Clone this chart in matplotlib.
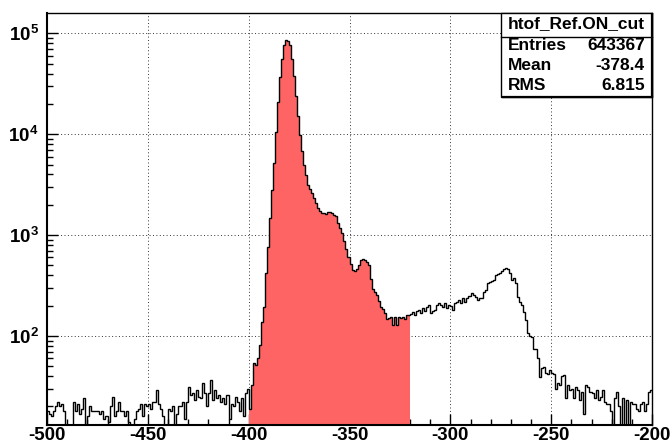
import numpy as np
import matplotlib
matplotlib.use("Agg")
import matplotlib.pyplot as plt
from matplotlib.ticker import MultipleLocator, LogLocator, FuncFormatter, NullFormatter
from matplotlib.patches import Rectangle
from matplotlib.lines import Line2D

plt.rcParams['font.family'] = ['Liberation Sans', 'DejaVu Sans']
plt.rcParams['axes.unicode_minus'] = False
plt.rcParams['mathtext.fontset'] = 'custom'
plt.rcParams['mathtext.rm'] = 'Liberation Sans:bold'
plt.rcParams['mathtext.bf'] = 'Liberation Sans:bold'

# ---- data: histogram htof_Ref.ON_cut, 1-unit bins from -500 to -200 ----
x_min, x_max = -500, -200
cut_lo, cut_hi = -400, -320

counts_500_451 = [18, 17, 16, 18, 20, 22, 20, 21, 18, 0,
                  0, 0, 0, 22, 18, 21, 17, 19, 24, 0,
                  16, 20, 18, 18, 18, 18, 17, 18, 15, 16,
                  14, 20, 25, 16, 18, 22, 18, 18, 16, 18,
                  14, 0, 0, 15, 18, 19, 21, 16, 21, 20]
counts_450_401 = [21, 19, 22, 22, 29, 21, 19, 16, 0, 0,
                  19, 18, 20, 0, 17, 20, 20, 22, 15, 22,
                  31, 26, 27, 23, 29, 25, 24, 34, 27, 20,
                  27, 37, 23, 29, 24, 26, 22, 24, 21, 26,
                  15, 21, 20, 25, 22, 18, 24, 16, 27, 30]
counts_400_351 = [19, 33, 54, 52, 60, 82, 139, 195, 420, 770,
                  1470, 2810, 5170, 10600, 21100, 36800, 55500, 77100, 85500, 84500,
                  77100, 55500, 37400, 24000, 15000, 9900, 6760, 4980, 3960, 3150,
                  2850, 2600, 2320, 2070, 1845, 1750, 1650, 1650, 1620, 1700,
                  1680, 1650, 1600, 1530, 1320, 1180, 1050, 870, 720, 600]
counts_350_301 = [515, 450, 440, 465, 500, 560, 575, 570, 545, 510,
                  365, 290, 275, 257, 222, 192, 185, 170, 148, 150,
                  153, 127, 153, 127, 153, 150, 155, 148, 160, 162,
                  165, 172, 162, 178, 182, 170, 190, 175, 195, 203,
                  170, 178, 182, 205, 210, 203, 195, 212, 190, 203]
counts_300_251 = [200, 181, 211, 219, 228, 214, 237, 219, 237, 250,
                  265, 255, 245, 228, 237, 240, 275, 286, 333, 341,
                  350, 360, 403, 410, 425, 440, 459, 470, 459, 420,
                  360, 374, 333, 245, 219, 203, 174, 144, 106, 100,
                  98, 75, 75, 60, 39, 48, 49, 43, 42, 46]
counts_250_201 = [43, 42, 30, 34, 33, 40, 41, 24, 33, 29,
                  30, 24, 31, 29, 23, 28, 17, 33, 31, 28,
                  27, 24, 29, 23, 25, 29, 22, 21, 21, 18,
                  0, 24, 28, 20, 0, 24, 0, 23, 0, 22,
                  21, 21, 19, 18, 21, 22, 18, 21, 28, 29]

stats_title = "htof_Ref.ON_cut"
stats_rows = [("Entries", "643367"), ("Mean", "-378.4"), ("RMS", "6.815")]

counts = np.array(counts_500_451 + counts_450_401 + counts_400_351 +
                  counts_350_301 + counts_300_251 + counts_250_201, dtype=float)
edges = np.arange(x_min, x_max + 1, 1)

# ---- figure ----
W, H = 671, 446
fig = plt.figure(figsize=(W / 100, H / 100), dpi=100)
L, R, T, B = 47, 652, 12.5, 425
ax = fig.add_axes([L / W, 1 - B / H, (R - L) / W, (B - T) / H])
ax.set_yscale('log')
ax.set_xlim(x_min, x_max)
ax.set_ylim(13.1, 1.61e5)

floor = 0.5
draw = np.where(counts > 0, counts, floor)
sel = (edges[:-1] >= cut_lo) & (edges[:-1] < cut_hi)
cut_edges = edges[(edges >= cut_lo) & (edges <= cut_hi)]
ax.stairs(draw[sel], cut_edges, fill=True, color='#ff6464', baseline=floor,
          lw=0, zorder=2)
ax.stairs(draw, edges, baseline=None, color='black', lw=1.0, zorder=3)

# grid
ax.set_axisbelow(True)
ax.grid(True, which='major', color='#333333', lw=0.7, linestyle=(0, (1, 2.5)))

# ticks
ax.xaxis.set_major_locator(MultipleLocator(50))
ax.xaxis.set_minor_locator(MultipleLocator(10))
ax.yaxis.set_major_locator(LogLocator(base=10))
ax.yaxis.set_minor_locator(LogLocator(base=10, subs=np.arange(2, 10)))
ax.yaxis.set_minor_formatter(NullFormatter())
ax.xaxis.set_major_formatter(FuncFormatter(lambda v, p: "%d" % v))
ax.yaxis.set_major_formatter(FuncFormatter(
    lambda v, p: r"$\mathbf{10^{%d}}$" % int(round(np.log10(v)))))
ax.tick_params(which='major', direction='in', length=8, width=1,
               top=False, right=False, labelsize=13.5)
ax.tick_params(which='minor', direction='in', length=4, width=1,
               top=False, right=False)
ax.tick_params(axis='x', pad=1.5)
ax.tick_params(axis='y', pad=6)
for lab in ax.get_xticklabels() + ax.get_yticklabels():
    lab.set_fontweight('bold')

for s in ['left', 'bottom']:
    ax.spines[s].set_linewidth(1.5)
for s in ['top', 'right']:
    ax.spines[s].set_linewidth(1.0)

# ---- stats box (figure pixel coords, top-origin) ----
def fx(px):
    return px / W

def fy(py):
    return 1 - py / H

bx0, bx1, by0, by1 = 500.5, 651.5, 12.5, 96.5
fig.patches.append(Rectangle((fx(bx0), fy(by1)), fx(bx1) - fx(bx0), fy(by0) - fy(by1),
                             transform=fig.transFigure, facecolor='white',
                             edgecolor='black', lw=1.0, zorder=10))
fig.lines.append(Line2D([fx(bx0), fx(bx1)], [fy(36.5), fy(36.5)],
                        transform=fig.transFigure, color='black', lw=1.0, zorder=11))
fig.lines.append(Line2D([fx(bx1), fx(bx1)], [fy(by0 + 2), fy(by1)],
                        transform=fig.transFigure, color='black', lw=1.6, zorder=11))
fig.lines.append(Line2D([fx(bx0 + 2), fx(bx1)], [fy(by1), fy(by1)],
                        transform=fig.transFigure, color='black', lw=1.6, zorder=11))

fig.text(fx(576.5), fy(24), stats_title, ha='center', va='center',
         fontsize=12.5, fontweight='bold', zorder=12)
row_y = [45, 65.5, 86]
for (name, val), yy in zip(stats_rows, row_y):
    fig.text(fx(508), fy(yy), name, ha='left', va='center',
             fontsize=12.5, fontweight='bold', zorder=12)
    fig.text(fx(645), fy(yy), val, ha='right', va='center',
             fontsize=12.5, fontweight='bold', zorder=12)

fig.savefig("out.png", dpi=100)
